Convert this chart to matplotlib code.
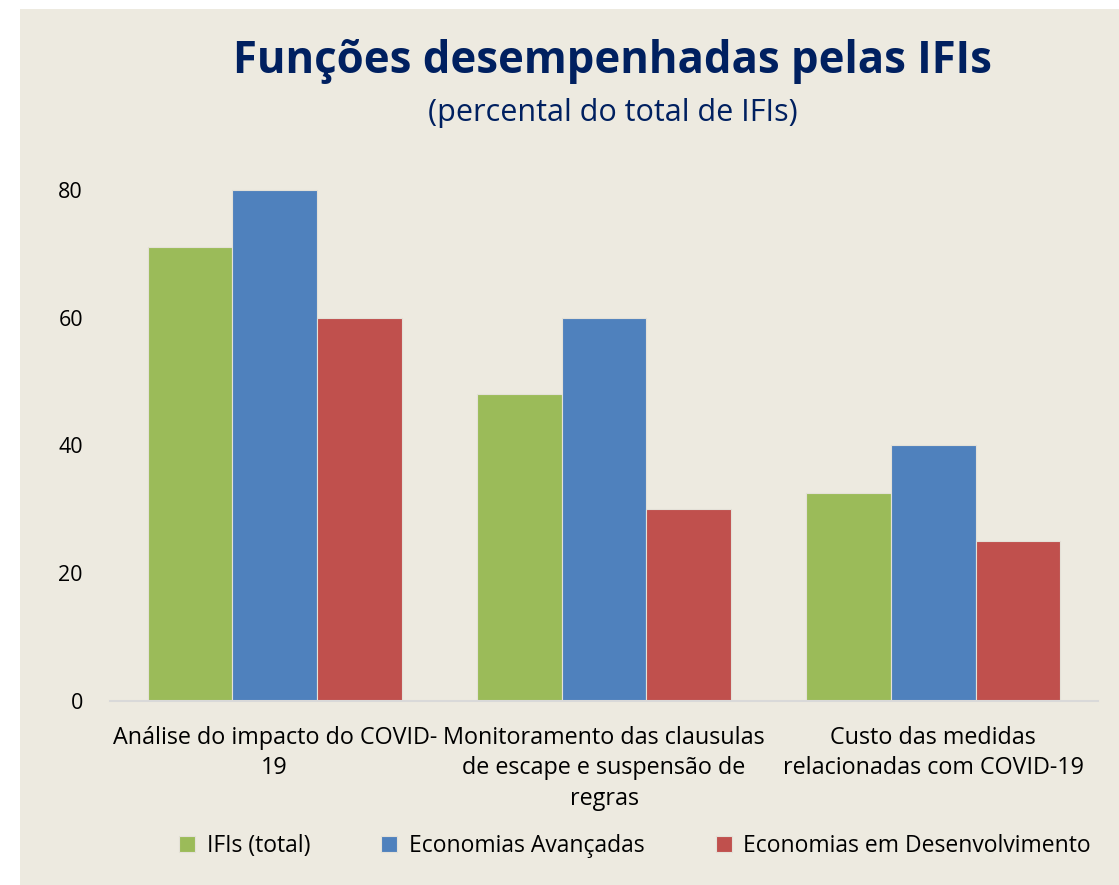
import numpy as np
import matplotlib.pyplot as plt
from matplotlib.patches import Rectangle

plt.rcParams['font.family'] = ['Open Sans', 'DejaVu Sans']

categories = ["Análise do impacto do COVID-\n19",
              "Monitoramento das clausulas\nde escape e suspensão de\nregras",
              "Custo das medidas\nrelacionadas com COVID-19"]
series = ["IFIs (total)", "Economias Avançadas", "Economias em Desenvolvimento"]
ifis_total = [71, 48, 32.5]
avancadas = [80, 60, 40]
desenvolvimento = [60, 30, 25]
colors = ["#9BBB59", "#4F81BD", "#C0504D"]
yticks = [0, 20, 40, 60, 80]

bg = "#EDEAE0"
fig = plt.figure(figsize=(11.19, 8.85), dpi=100, facecolor="white")
# beige chart area (white margin on top and left)
fig.patches.append(Rectangle((20 / 1119, 0), 1, 1 - 9 / 885, transform=fig.transFigure,
                             facecolor=bg, edgecolor="none", zorder=-10))

ax = fig.add_axes([110 / 1119, 1 - 701 / 885, 988 / 1119, (701 - 158) / 885])
ax.set_facecolor("none")
ax.set_zorder(5)

x = np.arange(len(categories))
w = 0.257
for i, vals in enumerate([ifis_total, avancadas, desenvolvimento]):
    ax.bar(x + (i - 1) * w, vals, width=w, color=colors[i], edgecolor="#E4E1D8",
           linewidth=0.8, label=series[i], zorder=2)

ax.set_xlim(-0.5, 2.5)
ax.set_ylim(0, 85)
ax.set_yticks(yticks)
ax.set_yticklabels([str(t) for t in yticks], fontsize=15.5)
ax.set_xticks(x)
ax.set_xticklabels(categories, fontsize=16.8, linespacing=1.36)
ax.tick_params(axis="both", length=0, colors="black")
ax.tick_params(axis="y", pad=19.5)
ax.tick_params(axis="x", pad=18)
for s in ["top", "right", "left"]:
    ax.spines[s].set_visible(False)
ax.spines["bottom"].set_color("#D9D9D9")
ax.spines["bottom"].set_linewidth(1.5)

fig.text(0.547, 1 - 62 / 885, "Funções desempenhadas pelas IFIs", ha="center", va="center",
         fontsize=31.5, fontweight="bold", color="#002060")
fig.text(0.548, 1 - 113 / 885, "(percental do total de IFIs)", ha="center", va="center",
         fontsize=22, color="#002060")

fig.legend(loc="center", bbox_to_anchor=(635 / 1119, 1 - 846 / 885), ncol=3, frameon=False,
           fontsize=16.5, handlelength=0.7, handleheight=0.7, handletextpad=0.5,
           columnspacing=3.1)

plt.savefig("out.png", dpi=100, facecolor=fig.get_facecolor())
plt.close()
print("Saved: out.png")
